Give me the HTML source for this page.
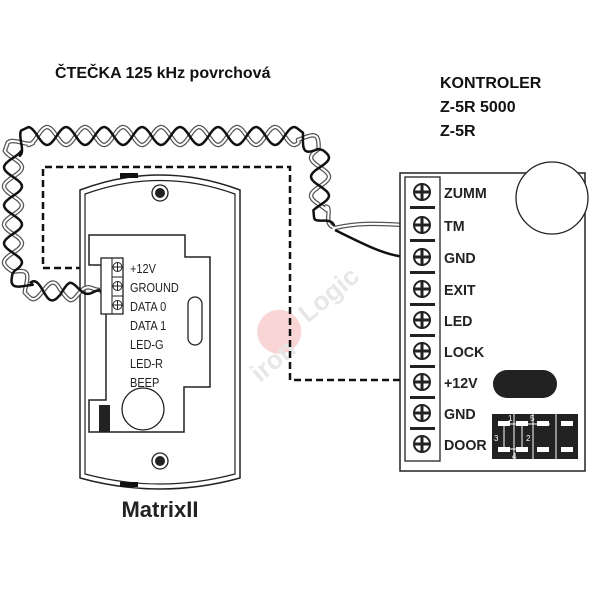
<!DOCTYPE html>
<html><head><meta charset="utf-8"><style>
html,body{margin:0;padding:0;background:#fff;width:600px;height:600px;overflow:hidden}
svg{display:block}
text{font-family:"Liberation Sans",sans-serif}
</style></head><body>
<svg id="s" width="600" height="600" viewBox="0 0 600 600" xmlns="http://www.w3.org/2000/svg">
<rect width="600" height="600" fill="#fff"/>
<!-- watermark -->
<g opacity="0.35" transform="rotate(-40 300 330)">
<circle cx="283" cy="318" r="22" fill="#e88"/>
<text x="235" y="345" font-size="26" font-weight="bold" fill="#bbb">iron</text>
<text x="310" y="330" font-size="26" font-weight="bold" fill="#bbb">Logic</text>
</g>
<text x="55" y="78" font-size="16" font-weight="bold" fill="#111">ČTEČKA 125 kHz povrchová</text>
<text x="440" y="88" font-size="16" font-weight="bold" fill="#111">KONTROLER</text>
<text x="440" y="112" font-size="16" font-weight="bold" fill="#111">Z-5R 5000</text>
<text x="440" y="136" font-size="16" font-weight="bold" fill="#111">Z-5R</text>

<!-- dashed -->
<polyline points="105,268 43,268 43,167 290,167 290,380 405,380" fill="none" stroke="#111" stroke-width="2.5" stroke-dasharray="7,4"/>

<!-- reader -->
<path d="M80,190 Q160,160 240,190 L240,478 Q160,500 80,478 Z" fill="#fff" stroke="#222" stroke-width="1.5"/>
<path d="M85,194 Q160,167 235,194 L235,474 Q160,494 85,474 Z" fill="none" stroke="#222" stroke-width="1.2"/>
<rect x="120" y="173" width="18" height="5" fill="#111"/>
<rect x="120" y="482" width="18" height="5" fill="#111"/>
<circle cx="160" cy="193" r="8" fill="#fff" stroke="#222" stroke-width="1.3"/><circle cx="160" cy="193" r="5" fill="#222"/>
<circle cx="160" cy="461" r="8" fill="#fff" stroke="#222" stroke-width="1.3"/><circle cx="160" cy="461" r="5" fill="#222"/>
<polygon points="89,235 185,235 185,257 210,257 210,387 184,387 184,432 89,432 89,400 106,400 106,265 89,265" fill="#fff" stroke="#222" stroke-width="1.5"/>
<rect x="188" y="297" width="14" height="48" rx="7" fill="#fff" stroke="#222" stroke-width="1.3"/>
<circle cx="143" cy="409" r="21" fill="#fff" stroke="#222" stroke-width="1.3"/>
<rect x="99" y="405" width="11" height="27" fill="#222"/>
<g id="wires"></g>
<rect x="101" y="258" width="22" height="56" fill="#fff" stroke="#222" stroke-width="1.3"/>
<line x1="112" y1="258" x2="112" y2="314" stroke="#222"/>
<line x1="112" y1="277" x2="123" y2="277" stroke="#222"/><line x1="112" y1="296" x2="123" y2="296" stroke="#222"/>
<g fill="#fff" stroke="#222" stroke-width="1">
<circle cx="117.5" cy="267" r="4.5"/><circle cx="117.5" cy="286" r="4.5"/><circle cx="117.5" cy="305" r="4.5"/>
</g>
<g stroke="#222" stroke-width="1"><line x1="113" y1="267" x2="122" y2="267"/><line x1="117.5" y1="263" x2="117.5" y2="271"/>
<line x1="113" y1="286" x2="122" y2="286"/><line x1="117.5" y1="282" x2="117.5" y2="290"/>
<line x1="113" y1="305" x2="122" y2="305"/><line x1="117.5" y1="301" x2="117.5" y2="309"/></g>
<g font-size="12.5" fill="#222" transform="translate(130,0) scale(0.88,1)">
<text x="0" y="273">+12V</text><text x="0" y="292">GROUND</text><text x="0" y="311">DATA 0</text>
<text x="0" y="330">DATA 1</text><text x="0" y="349">LED-G</text><text x="0" y="368">LED-R</text><text x="0" y="387">BEEP</text>
</g>
<text x="160" y="517" font-size="22" font-weight="bold" fill="#222" text-anchor="middle">MatrixII</text>

<!-- controller -->
<rect x="400" y="173" width="185" height="298" fill="#fff" stroke="#222" stroke-width="1.5"/>
<rect x="405" y="177" width="35" height="284" fill="none" stroke="#222" stroke-width="1.3"/>
<circle cx="552" cy="198" r="36" fill="#fff" stroke="#222" stroke-width="1.3"/>
<rect x="493" y="370" width="64" height="28" rx="14" fill="#222"/>
<g id="term"></g>
<g font-size="15" font-weight="bold" fill="#222" transform="translate(444,0) scale(0.95,1)">
<text x="0" y="198">ZUMM</text><text x="0" y="231">TM</text><text x="0" y="263">GND</text>
<text x="0" y="295">EXIT</text><text x="0" y="326">LED</text><text x="0" y="357">LOCK</text>
<text x="0" y="388">+12V</text><text x="0" y="419">GND</text><text x="0" y="450">DOOR</text>
</g>
<rect x="492" y="414" width="86" height="45" fill="#222"/>
<g stroke="#fff" stroke-width="1"><line x1="514" y1="414" x2="514" y2="459"/><line x1="533" y1="414" x2="533" y2="459"/><line x1="556" y1="414" x2="556" y2="459"/>
<line x1="504" y1="424" x2="504" y2="449"/><line x1="522" y1="424" x2="522" y2="449"/><line x1="498" y1="424" x2="550" y2="424"/><line x1="498" y1="449" x2="520" y2="449"/></g>
<g fill="#fff"><rect x="498" y="421" width="12" height="5"/><rect x="516" y="421" width="12" height="5"/><rect x="537" y="421" width="12" height="5"/><rect x="561" y="421" width="12" height="5"/>
<rect x="498" y="447" width="12" height="5"/><rect x="516" y="447" width="12" height="5"/><rect x="537" y="447" width="12" height="5"/><rect x="561" y="447" width="12" height="5"/></g>
<g font-size="8" fill="#fff"><text x="508" y="421">1</text><text x="530" y="421">5</text><text x="494" y="441">3</text><text x="526" y="441">2</text><text x="512" y="459">4</text></g>
</svg>
<script>
(function(){
var NS="http://www.w3.org/2000/svg";
var t=document.getElementById("term");
var ys=[192,225,257,289,320,351,382,413,444];
ys.forEach(function(y,i){
 var c=document.createElementNS(NS,"circle");c.setAttribute("cx",422);c.setAttribute("cy",y);c.setAttribute("r",8);c.setAttribute("fill","#fff");c.setAttribute("stroke","#222");c.setAttribute("stroke-width","2");t.appendChild(c);
 var h=document.createElementNS(NS,"path");h.setAttribute("d","M414 "+y+"H430M422 "+(y-8)+"V"+(y+8));h.setAttribute("stroke","#222");h.setAttribute("stroke-width","3");t.appendChild(h);
 if(i<8){var b=document.createElementNS(NS,"rect");b.setAttribute("x",410);b.setAttribute("y",y+14);b.setAttribute("width",25);b.setAttribute("height",3);b.setAttribute("fill","#222");t.appendChild(b);}
});
var P=[[100,290],[60,292],[30,290],[13,272],[13,150],[28,136],[300,136],[320,150],[320,212],[335,228]];
var seg=[],L=0;
for(var i=0;i<P.length-1;i++){var dx=P[i+1][0]-P[i][0],dy=P[i+1][1]-P[i][1],l=Math.hypot(dx,dy);seg.push([P[i],dx/l,dy/l,l,L]);L+=l;}
function pt(s){for(var i=0;i<seg.length;i++){var g=seg[i];if(s<=g[4]+g[3]||i==seg.length-1){var u=s-g[4];return[g[0][0]+g[1]*u,g[0][1]+g[2]*u,-g[2],g[1]];}}}
function wire(ph){var d="";for(var s=0;s<=L;s+=2){var p=pt(s);var env=Math.min(1,s/30,(L-s)/20);var a=9*env*Math.sin(2*Math.PI*s/38+ph);d+=(s?"L":"M")+(p[0]+p[2]*a).toFixed(1)+" "+(p[1]+p[3]*a).toFixed(1);}return d;}
var w=document.getElementById("wires");
function add(d,c,wd){var p=document.createElementNS(NS,"path");p.setAttribute("d",d);p.setAttribute("fill","none");p.setAttribute("stroke",c);p.setAttribute("stroke-width",wd);p.setAttribute("stroke-linejoin","round");w.appendChild(p);}
var a=wire(0),b=wire(Math.PI);
add(a,"#555",4.5);add(a,"#fff",2);add(b,"#111",2.5);
add("M335,228 C360,222 385,224 405,225","#555",4.5);add("M335,228 C360,222 385,224 405,225","#fff",2);
add("M335,230 C365,245 385,255 405,257","#111",2.5);
add("M100,290 L105,300","#111",2.5);
})();
</script>
</body></html>
